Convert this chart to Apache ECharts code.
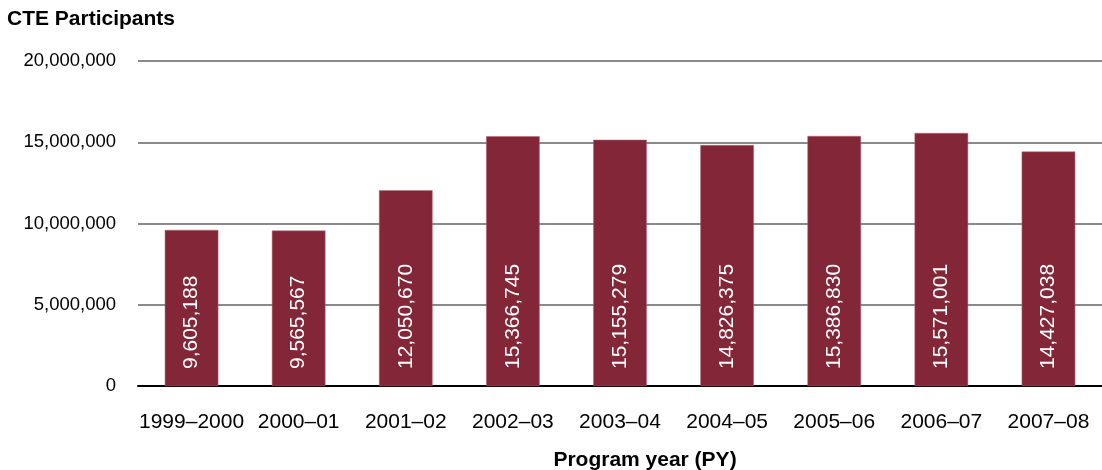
<!DOCTYPE html>
<html>
<head>
<meta charset="utf-8">
<script src="https://cdn.jsdelivr.net/npm/echarts@6/dist/echarts.min.js"></script>
<style>
  html, body { margin: 0; padding: 0; background: #fff; }
  #chart { width: 1102px; height: 470px; }
</style>
</head>
<body>
<div id="chart"></div>
<script>
const years = ['1999–2000', '2000–01', '2001–02', '2002–03', '2003–04', '2004–05', '2005–06', '2006–07', '2007–08']
const participants = [9605188, 9565567, 12050670, 15366745, 15155279, 14826375, 15386830, 15571001, 14427038]

const fmt = v => v.toLocaleString('en-US')
const font = '"Liberation Sans", Arial, Helvetica, sans-serif'

const chart = echarts.init(document.getElementById('chart'))
chart.setOption({
  animation: false,
  textStyle: { fontFamily: font },
  title: [
    { text: 'CTE Participants', left: 2, top: 4,
      textStyle: { fontFamily: font, fontSize: 21, fontWeight: 'bold', color: '#000' } },
    { text: 'Program year (PY)', left: 640, top: 445, textAlign: 'center',
      textStyle: { fontFamily: font, fontSize: 21, fontWeight: 'bold', color: '#000' } }
  ],
  grid: { left: 138, right: -5, top: 61, bottom: 84 },
  xAxis: {
    type: 'category', data: years,
    axisLine: { lineStyle: { color: '#000', width: 2 } },
    axisTick: { show: false },
    axisLabel: { color: '#000', fontSize: 21, margin: 26, interval: 0 }
  },
  yAxis: {
    type: 'value', min: 0, max: 20000000, interval: 5000000,
    axisLine: { show: false }, axisTick: { show: false },
    axisLabel: { color: '#000', fontSize: 18.5, margin: 22, formatter: fmt },
    splitLine: { lineStyle: { color: '#8a8a8a', width: 2 } }
  },
  series: [{
    type: 'bar', data: participants, barWidth: '50%',
    itemStyle: { color: '#832637', borderColor: '#b46a76', borderWidth: 0.5 },
    label: {
      show: true, position: 'insideBottom', rotate: 90, distance: 17,
      align: 'left', verticalAlign: 'middle',
      color: '#fff', fontSize: 21, formatter: p => fmt(p.value)
    }
  }]
})
</script>
</body>
</html>
